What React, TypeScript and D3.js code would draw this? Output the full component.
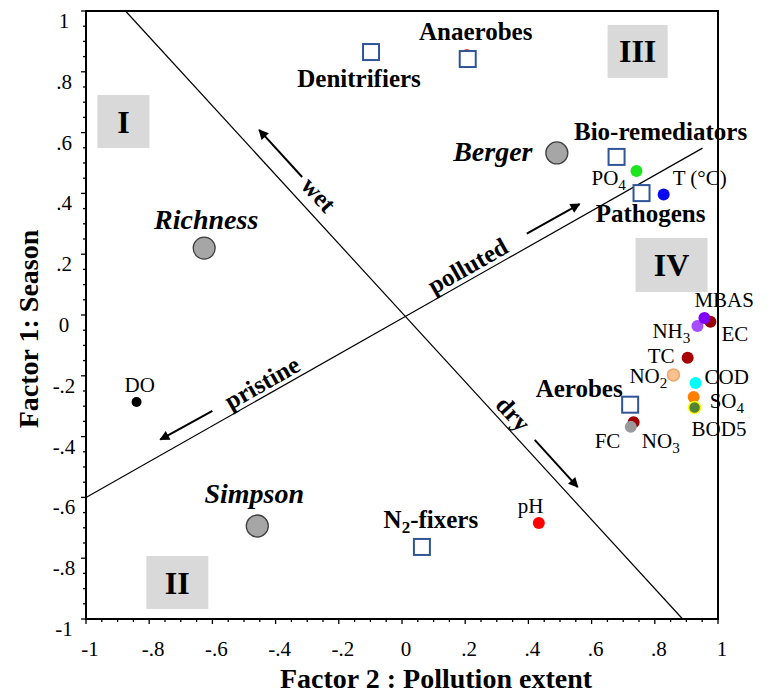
import React from 'react';
import * as d3 from 'd3';

// environmental variables (circles)
const variables = ['PO4', 'T (°C)', 'EC', 'NH3', 'MBAS', 'TC', 'NO2', 'COD', 'SO4', 'BOD5', 'FC', 'NO3', 'DO', 'pH'];
const varX = [0.742, 0.828, 0.976, 0.935, 0.957, 0.904, 0.859, 0.929, 0.923, 0.926, 0.733, 0.724, -0.84, 0.433];
const varY = [0.474, 0.396, -0.022, -0.036, -0.01, -0.141, -0.197, -0.224, -0.27, -0.304, -0.353, -0.368, -0.286, -0.684];
const varColors = ['#1ee61e', '#0a0af0', '#990000', '#a64dff', '#8000ff', '#a80000', '#fac08f', '#00ffff', '#ff8000', '#548235', '#a00000', '#999999', '#000000', '#ff0000'];

// hidden points behind the squares
const hiddenX = [0.205, -0.09];
const hiddenY = [0.858, 0.872];

// microbial groups (open squares)
const groups = ['Denitrifiers', 'Anaerobes', 'Bio-remediators', 'Pathogens', 'Aerobes', 'N2-fixers'];
const groupX = [-0.098, 0.208, 0.679, 0.758, 0.722, 0.063];
const groupY = [0.865, 0.842, 0.52, 0.401, -0.295, -0.763];

// diversity indices (grey circles)
const indices = ['Richness', 'Berger', 'Simpson'];
const indexX = [-0.626, 0.49, -0.458];
const indexY = [0.22, 0.533, -0.694];

// quadrants
const quadrants = ['I', 'II', 'III', 'IV'];
const quadX = [-0.8815, -0.711, 0.7457, 0.853];
const quadY = [0.6365, -0.88, 0.867, 0.1645];

const ticks = [-1, -0.8, -0.6, -0.4, -0.2, 0, 0.2, 0.4, 0.6, 0.8, 1];

const W = 770;
const H = 697;
const margin = { top: 11, right: 52, bottom: 78, left: 86 };

// label offsets in px relative to the mark, anchor
const varLabel: Record<string, [number, number, string]> = {
  'PO4': [-45, 14, 'start'],
  'T (°C)': [9, -10, 'start'],
  'MBAS': [-10, -11, 'start'],
  'EC': [11, 19, 'start'],
  'NH3': [-45, 12, 'start'],
  'TC': [-40, 5, 'start'],
  'NO2': [-44, 8, 'start'],
  'COD': [9, 1, 'start'],
  'SO4': [16, 11, 'start'],
  'BOD5': [-3, 29, 'start'],
  'FC': [-39, 26, 'start'],
  'NO3': [11, 21, 'start'],
  'DO': [-12, -10, 'start'],
  'pH': [-21, -10, 'start'],
};
const groupLabel: Record<string, [number, number]> = {
  'Denitrifiers': [-12, 35],
  'Anaerobes': [8, -19],
  'Bio-remediators': [44, -17],
  'Pathogens': [9, 29],
  'Aerobes': [-51, -8],
  'N2-fixers': [9, -19],
};
const indexLabel: Record<string, [number, number]> = {
  'Richness': [2, -19],
  'Berger': [-64, 8],
  'Simpson': [-3, -23],
};
const quadSize: Record<string, [number, number]> = {
  'I': [52, 53], 'II': [62, 53], 'III': [60, 53], 'IV': [72, 54],
};

// separating lines and arrows, in factor coordinates
const lineWet = [[-0.875, 1], [0.888, -1]];
const linePol = [[-1, -0.6], [0.951, 0.549]];
const arrows = [
  { from: [-0.316, 0.454], to: [-0.452, 0.609] },
  { from: [0.42, -0.411], to: [0.556, -0.566] },
  { from: [0.395, 0.268], to: [0.562, 0.365] },
  { from: [-0.6, -0.315], to: [-0.765, -0.41] },
];
const arrowText = [
  { t: 'wet', at: [-0.265, 0.395], rot: 47.5 },
  { t: 'dry', at: [0.351, -0.326], rot: 47.5 },
  { t: 'polluted', at: [0.2085, 0.16], rot: -29.5 },
  { t: 'pristine', at: [-0.442, -0.224], rot: -29.5 },
];

const fmt = (v: number) => {
  if (v === 0) return '0';
  const s = Math.abs(v) === 1 ? '1' : v.toFixed(1).replace(/^(-?)0\./, '$1.');
  return v < 0 && s[0] !== '-' ? '-' + s : s;
};

const sub = (label: string, size: number) => {
  const m = label.match(/^([A-Z]+)(\d)(.*)$/);
  if (!m || label === 'BOD5') return label;
  return (
    <>
      {m[1]}
      <tspan fontSize={size * 0.72} dy={5}>{m[2]}</tspan>
      <tspan dy={-5}>{m[3]}</tspan>
    </>
  );
};

export default function App() {
  const x = d3.scaleLinear().domain([-1, 1]).range([margin.left, W - margin.right]);
  const y = d3.scaleLinear().domain([-1, 1]).range([H - margin.bottom, margin.top]);
  const minor = d3.range(-1, 1.0001, 0.05);
  const font = '"Liberation Serif", "Times New Roman", serif';
  const [x0, x1] = x.range();
  const [y0, y1] = y.range();

  return (
    <svg width={W} height={H} style={{ position: 'absolute', left: 0, top: 0 }} fontFamily={font}>
      <defs>
        <marker id="ah" viewBox="0 0 10 10" refX="9" refY="5" markerWidth="6" markerHeight="5" orient="auto" markerUnits="strokeWidth">
          <path d="M0,0 L10,5 L0,10 z" fill="#000" />
        </marker>
      </defs>
      <rect x={0} y={0} width={W} height={H} fill="#fff" />

      {/* quadrant boxes */}
      {quadrants.map((q, i) => {
        const [bw, bh] = quadSize[q];
        return (
          <g key={q}>
            <rect x={x(quadX[i]) - bw / 2} y={y(quadY[i]) - bh / 2} width={bw} height={bh} fill="#d9d9d9" />
            <text x={x(quadX[i])} y={y(quadY[i]) + 11} textAnchor="middle" fontSize={32} fontWeight="bold">{q}</text>
          </g>
        );
      })}

      {/* frame */}
      <rect x={x0} y={y1} width={x1 - x0} height={y0 - y1} fill="none" stroke="#000" strokeWidth={2} />

      {/* ticks */}
      {minor.map((v, i) => {
        const major = i % 4 === 0;
        const len = major ? 5 : 3;
        return (
          <g key={i} stroke="#000" strokeWidth={1.3}>
            <line x1={x0} x2={x0 - len} y1={y(v)} y2={y(v)} />
            <line x1={x(v)} x2={x(v)} y1={y0} y2={y0 + len} />
          </g>
        );
      })}
      {ticks.map(v => (
        <g key={v} fontSize={21}>
          <text x={64} y={y(v) + 17} textAnchor="middle">{fmt(v)}</text>
          <text x={x(v) + 4} y={y0 + 37} textAnchor="middle">{fmt(v)}</text>
        </g>
      ))}

      {/* axis titles */}
      <text x={436} y={688} textAnchor="middle" fontSize={28} fontWeight="bold">Factor 2 : Pollution extent</text>
      <text transform={`translate(38,${329}) rotate(-90)`} textAnchor="middle" fontSize={28} fontWeight="bold">Factor 1: Season</text>

      {/* separating lines */}
      {[lineWet, linePol].map((l, i) => (
        <line key={i} x1={x(l[0][0])} y1={y(l[0][1])} x2={x(l[1][0])} y2={y(l[1][1])} stroke="#000" strokeWidth={1.2} />
      ))}
      {arrows.map((a, i) => (
        <line key={i} x1={x(a.from[0])} y1={y(a.from[1])} x2={x(a.to[0])} y2={y(a.to[1])} stroke="#000" strokeWidth={2} markerEnd="url(#ah)" />
      ))}
      {arrowText.map(a => (
        <text key={a.t} transform={`translate(${x(a.at[0])},${y(a.at[1])}) rotate(${a.rot})`} textAnchor="middle" dy={8} fontSize={25} fontWeight="bold">{a.t}</text>
      ))}

      {/* indices */}
      {indices.map((n, i) => (
        <g key={n}>
          <circle cx={x(indexX[i])} cy={y(indexY[i])} r={11} fill="#a6a6a6" stroke="#404040" strokeWidth={1.3} />
          <text x={x(indexX[i]) + indexLabel[n][0]} y={y(indexY[i]) + indexLabel[n][1]} textAnchor="middle" fontSize={28} fontWeight="bold" fontStyle="italic">{n}</text>
        </g>
      ))}

      {/* hidden points */}
      {hiddenX.map((v, i) => (
        <circle key={i} cx={x(v)} cy={y(hiddenY[i])} r={5} fill="#ff0000" />
      ))}

      {/* microbial groups */}
      {groups.map((n, i) => (
        <g key={n}>
          <rect x={x(groupX[i]) - 8} y={y(groupY[i]) - 8} width={16} height={16} fill="#fff" stroke="#2f5597" strokeWidth={2} />
          <text x={x(groupX[i]) + groupLabel[n][0]} y={y(groupY[i]) + groupLabel[n][1]} textAnchor="middle" fontSize={25} fontWeight="bold">
            {n === 'N2-fixers' ? (<>N<tspan fontSize={17} dy={5}>2</tspan><tspan dy={-5}>-fixers</tspan></>) : n}
          </text>
        </g>
      ))}

      {/* variables */}
      {variables.map((n, i) => (
        <g key={n}>
          <circle cx={x(varX[i])} cy={y(varY[i])} r={n === 'DO' ? 5 : 6}
            fill={varColors[i]}
            stroke={n === 'BOD5' ? '#ffff00' : n === 'NO2' ? '#e8a870' : 'none'}
            strokeWidth={1.5} />
          <text x={x(varX[i]) + varLabel[n][0]} y={y(varY[i]) + varLabel[n][1]} textAnchor={varLabel[n][2]} fontSize={21}>{sub(n, 21)}</text>
        </g>
      ))}
    </svg>
  );
}
